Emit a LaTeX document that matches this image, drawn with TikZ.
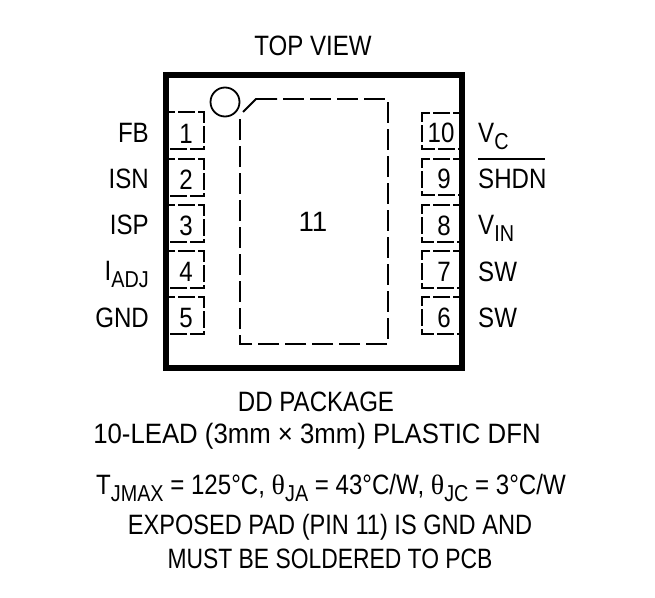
\documentclass[tikz,border=0pt]{standalone}
\usepackage{fontspec}
\setmainfont{Liberation Sans}[FakeStretch=0.86]
\newfontfamily\thetafont{Liberation Serif}
\newcommand{\lowtext}[1]{\raisebox{-0.25em}{\fontsize{23}{23}\selectfont #1}}
\tikzset{
  pinbox/.style={line width=1.8pt,dash pattern=on 17pt off 3pt,dash phase=11pt},
  padline/.style={line width=1.8pt},
  lbl/.style={anchor=base,inner sep=0pt,font=\fontsize{28}{28}\selectfont},
  lblleft/.style={lbl,anchor=base east},
  lblright/.style={lbl,anchor=base west},
}
\begin{document}
\begin{tikzpicture}[x=1pt,y=-1pt]
    \useasboundingbox (0,0) rectangle (655,597);
    \node[lbl] (topview) at (313,55) {TOP VIEW};
    \draw[line width=6pt] (166,75) rectangle (462,368);
    \draw[padline] (225,102) circle (14.5);
    % exposed pad
    \draw[padline] (243,112) -- (256,99) -- (277,99);
    \draw[padline,dash pattern=on 21pt off 6pt] (283,99) -- (388,99) -- (388,344) -- (240,344) -- (240,118);
    % left pins
    \draw[pinbox] (169,112) -- (204,112) -- (204,149) -- (169,149);
    \draw[pinbox] (169,159) -- (204,159) -- (204,196) -- (169,196);
    \draw[pinbox] (169,205) -- (204,205) -- (204,242) -- (169,242);
    \draw[pinbox] (169,251) -- (204,251) -- (204,288) -- (169,288);
    \draw[pinbox] (169,297) -- (204,297) -- (204,334) -- (169,334);
    % right pins
    \draw[pinbox] (459,113) -- (422,113) -- (422,149) -- (459,149);
    \draw[pinbox] (459,159) -- (422,159) -- (422,195) -- (459,195);
    \draw[pinbox] (459,205) -- (422,205) -- (422,242) -- (459,242);
    \draw[pinbox] (459,251) -- (422,251) -- (422,288) -- (459,288);
    \draw[pinbox] (459,297) -- (422,297) -- (422,334) -- (459,334);
    \node[lbl] (pin1) at (186,143) {1};
    \node[lbl] (pin2) at (186,189) {2};
    \node[lbl] (pin3) at (186,235) {3};
    \node[lbl] (pin4) at (186,281) {4};
    \node[lbl] (pin5) at (186,327) {5};
    \node[lbl] (pin10) at (441,142) {10};
    \node[lbl] (pin9) at (444,188) {9};
    \node[lbl] (pin8) at (444,235) {8};
    \node[lbl] (pin7) at (444,281) {7};
    \node[lbl] (pin6) at (444,327) {6};
    \node[lbl,xscale=1.15] (pin11) at (313,231) {11};
    \node[lblleft] (fb) at (149,142) {FB};
    \node[lblleft] (isn) at (149,188) {ISN};
    \node[lblleft] (isp) at (149,234) {ISP};
    \node[lblleft] (iadj) at (149,280) {I\lowtext{ADJ}};
    \node[lblleft] (gnd) at (149,327) {GND};
    \node[lblright] (vc) at (478,142) {V\lowtext{C}};
    \node[lblright] (shdn) at (478,188) {SHDN};
    \draw[line width=1.5pt] (478,159) -- (545,159);
    \node[lblright] (vin) at (478,234) {V\lowtext{IN}};
    \node[lblright] (sw7) at (478,281) {SW};
    \node[lblright] (sw6) at (478,327) {SW};
    % text below the package
    \node[lbl] (dd) at (316,411) {DD PACKAGE};
    \node[lbl,xscale=1.07] (lead) at (317,443) {10-LEAD (3mm × 3mm) PLASTIC DFN};
    \node[lbl] (therm) at (331,494) {T\lowtext{JMAX} = 125°C, {\thetafont θ}\lowtext{JA} = 43°C/W, {\thetafont θ}\lowtext{JC} = 3°C/W};
    \node[lbl,xscale=0.98] (exposed) at (330,534) {EXPOSED PAD (PIN 11) IS GND AND};
    \node[lbl,xscale=0.95] (must) at (330,568) {MUST BE SOLDERED TO PCB};
\end{tikzpicture}
\end{document}
